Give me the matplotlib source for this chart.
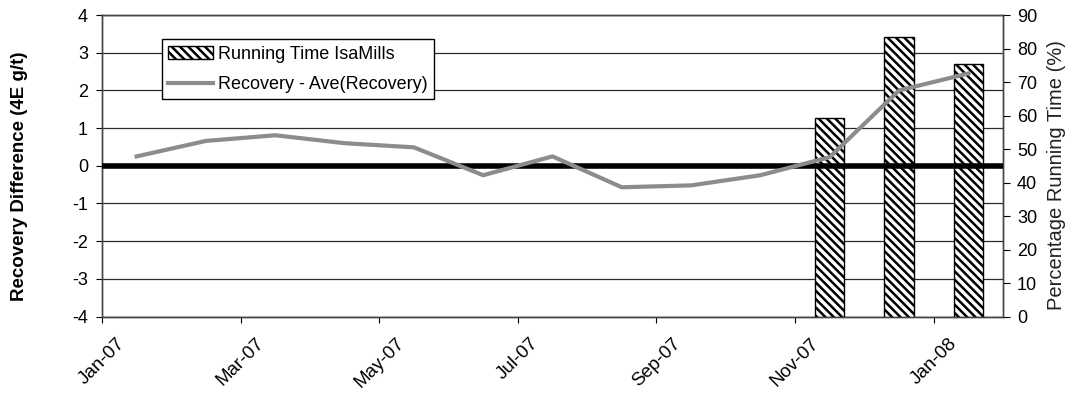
import numpy as np
import matplotlib
matplotlib.use('Agg')
import matplotlib.pyplot as plt
import matplotlib.transforms as mtransforms

# 数据
months = ['Jan-07', 'Feb-07', 'Mar-07', 'Apr-07', 'May-07', 'Jun-07', 'Jul-07',
          'Aug-07', 'Sep-07', 'Oct-07', 'Nov-07', 'Dec-07', 'Jan-08']
recovery_diff = [0.25, 0.66, 0.81, 0.60, 0.49, -0.25, 0.25,
                 -0.57, -0.52, -0.25, 0.23, 2.00, 2.45]  # 4E g/t

isamill_months = ['Nov-07', 'Dec-07', 'Jan-08']
isamill_running = [59.3, 83.5, 75.4]  # %

tick_labels = ['Jan-07', 'Mar-07', 'May-07', 'Jul-07', 'Sep-07', 'Nov-07', 'Jan-08']

plt.rcParams['font.family'] = ['Liberation Sans', 'DejaVu Sans']
plt.rcParams['hatch.linewidth'] = 1.8
plt.rcParams['axes.unicode_minus'] = False

fig = plt.figure(figsize=(10.68, 4.03), dpi=100)
ax = fig.add_axes([0.0955, 0.2146, 0.8436, 0.748])
ax2 = ax.twinx()   # 右轴: 运行时间
ax3 = ax.twinx()   # 折线放在最上层

x = np.arange(len(months))
bar_x = [months.index(m) for m in isamill_months]

# 左轴 + 网格
ax.set_ylim(-4, 4)
ax.set_yticks(range(-4, 5))
ax.grid(axis='y', color='#2a2a2a', lw=0.9)
ax.set_axisbelow(True)
ax.set_xlim(-0.5, len(months) - 0.5)
ax.set_xticks(np.arange(0, len(months), 2) - 0.5)
ax.set_xticklabels(tick_labels, rotation=45, ha='center', fontsize=13.5)
offset = mtransforms.ScaledTranslation(0.06, 0, fig.dpi_scale_trans)
for lab in ax.get_xticklabels():
    lab.set_transform(lab.get_transform() + offset)

# 柱状图
ax2.bar(bar_x, isamill_running, width=0.42, color='white', edgecolor='black',
        hatch='\\\\\\\\', lw=1, label='Running Time IsaMills')
ax2.set_ylim(0, 90)
ax2.set_yticks(range(0, 91, 10))

# 折线和零线
ax3.axhline(0, color='black', lw=4)
ax3.plot(x, recovery_diff, color='#8c8c8c', lw=3, label='Recovery - Ave(Recovery)')
ax3.set_ylim(-4, 4)
ax3.axis('off')

ax.tick_params(axis='x', direction='out', length=4, pad=9)
ax.tick_params(axis='y', direction='out', length=4, pad=6, labelsize=13)
ax2.tick_params(axis='y', direction='out', length=5, pad=5, labelsize=13)
for a in (ax, ax2):
    for s in a.spines.values():
        s.set_color('#444444')
        s.set_linewidth(1)

ax.set_ylabel('Recovery Difference (4E g/t)', fontsize=13.5, fontweight='bold')
ax.yaxis.set_label_coords(-0.092, 0.466)
ax.yaxis.label.set_va('center')
ax2.set_ylabel('Percentage Running Time (%)', fontsize=14.5, color='#222222')
ax2.yaxis.set_label_coords(1.0596, 0.469)
ax2.yaxis.label.set_va('center')

h2, l2 = ax2.get_legend_handles_labels()
h3, l3 = ax3.get_legend_handles_labels()
leg = ax3.legend(h2 + h3, l2 + l3, loc='upper left', bbox_to_anchor=(0.0666, 0.92),
                 borderaxespad=0, fontsize=13, frameon=True, fancybox=False,
                 edgecolor='black', framealpha=1, borderpad=0.35, labelspacing=0.75,
                 handlelength=2.5, handletextpad=0.25)
leg.get_frame().set_linewidth(1)

fig.savefig('out.png', dpi=100)
